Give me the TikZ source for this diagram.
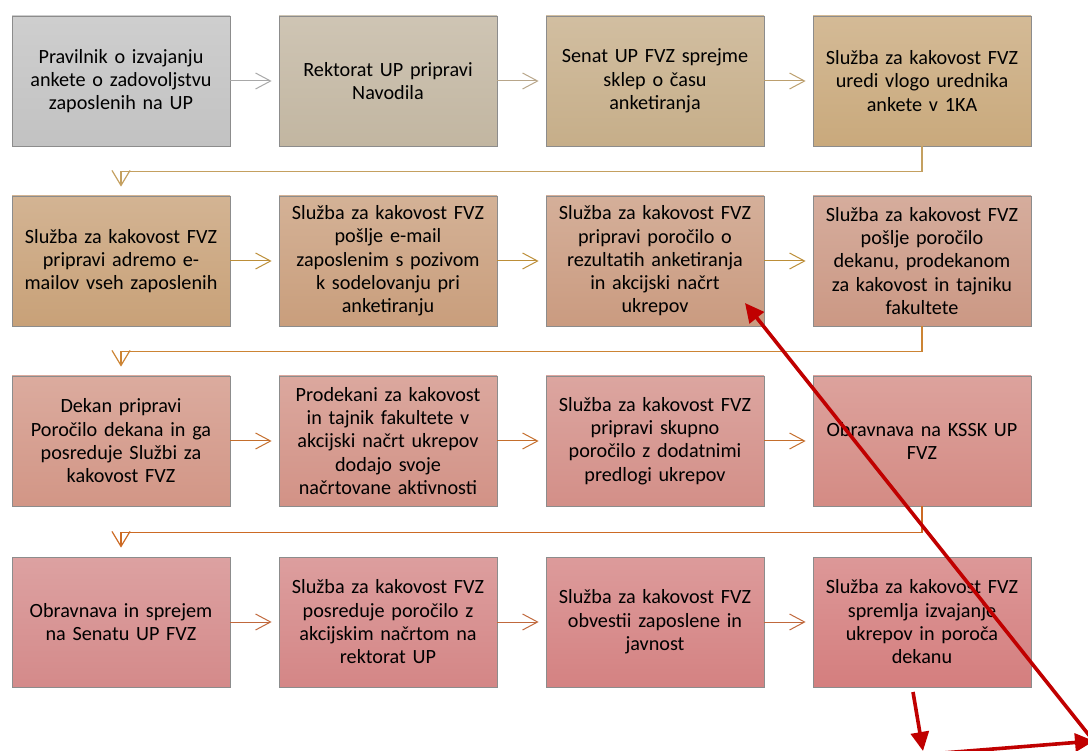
\documentclass[tikz,border=0pt]{standalone}
\usepackage{fontspec}
\setmainfont{Carlito}
\usetikzlibrary{arrows.meta,calc}
\newcommand{\boxfont}{\fontsize{20.2}{23.3}\selectfont}
\tikzset{
  pbox/.style={draw=black!45, line width=0.8pt, minimum width=218pt, minimum height=130pt,
    text width=214pt, align=center, inner sep=0pt, font=\boxfont, top color=#1!80!white, bottom color=#1},
  harrow/.style={draw=#1, line width=1pt, -{Straight Barb[length=15pt,width=16pt,line width=1pt]}, shorten >=7pt},
  conn/.style={draw=#1, line width=1.2pt, -{Straight Barb[length=15pt,width=18pt,line width=1.2pt]}},
  redarrow/.style={draw=redann, line width=3.6pt, -{Triangle[length=19pt,width=18pt]}}
}
\definecolor{redann}{HTML}{C00000}
\definecolor{b11}{HTML}{C2C2C2}
\definecolor{b12}{HTML}{C2B6A1}
\definecolor{b13}{HTML}{C6AE89}
\definecolor{b14}{HTML}{C9A97C}
\definecolor{b21}{HTML}{C8A178}
\definecolor{b22}{HTML}{C99E7C}
\definecolor{b23}{HTML}{CA9B80}
\definecolor{b24}{HTML}{CB9884}
\definecolor{b31}{HTML}{D29686}
\definecolor{b32}{HTML}{D29286}
\definecolor{b33}{HTML}{D38F88}
\definecolor{b34}{HTML}{D48B84}
\definecolor{b41}{HTML}{D48A8A}
\definecolor{b42}{HTML}{D48686}
\definecolor{b43}{HTML}{D48282}
\definecolor{b44}{HTML}{D47E7E}
\definecolor{a11}{HTML}{A8A8A8}
\definecolor{a12}{HTML}{B8A68A}
\definecolor{a13}{HTML}{BC9F6E}
\definecolor{c1}{HTML}{C4A060}
\definecolor{a2}{HTML}{BC8E38}
\definecolor{c2}{HTML}{CC8434}
\definecolor{a3}{HTML}{C46E2C}
\definecolor{c3}{HTML}{CC6A24}
\definecolor{a4}{HTML}{C0683C}
\begin{document}
\begin{tikzpicture}[x=1pt,y=-1pt]
\useasboundingbox (0,0) rectangle (1088,751);
\clip (0,0) rectangle (1088,751);
% row 1
\node[pbox=b11] (r1c1) at (121,81) {Pravilnik o izvajanju\\ankete o zadovoljstvu\\zaposlenih na UP};
\node[pbox=b12] (r1c2) at (388,81) {Rektorat UP pripravi\\Navodila};
\node[pbox=b13] (r1c3) at (655,81) {Senat UP FVZ sprejme\\sklep o času\\anketiranja};
\node[pbox=b14] (r1c4) at (922,81) {Služba za kakovost FVZ\\uredi vlogo urednika\\ankete v 1KA};
% row 2
\node[pbox=b21] (r2c1) at (121,261) {Služba za kakovost FVZ\\pripravi adremo e-\\mailov vseh zaposlenih};
\node[pbox=b22] (r2c2) at (388,261) {Služba za kakovost FVZ\\pošlje e-mail\\zaposlenim s pozivom\\k sodelovanju pri\\anketiranju};
\node[pbox=b23] (r2c3) at (655,261) {Služba za kakovost FVZ\\pripravi poročilo o\\rezultatih anketiranja\\in akcijski načrt\\ukrepov};
\node[pbox=b24] (r2c4) at (922,261) {Služba za kakovost FVZ\\pošlje poročilo\\dekanu, prodekanom\\za kakovost in tajniku\\fakultete};
% row 3
\node[pbox=b31] (r3c1) at (121,441) {Dekan pripravi\\Poročilo dekana in ga\\posreduje Službi za\\kakovost FVZ};
\node[pbox=b32] (r3c2) at (388,441) {Prodekani za kakovost\\in tajnik fakultete v\\akcijski načrt ukrepov\\dodajo svoje\\načrtovane aktivnosti};
\node[pbox=b33] (r3c3) at (655,441) {Služba za kakovost FVZ\\pripravi skupno\\poročilo z dodatnimi\\predlogi ukrepov};
\node[pbox=b34] (r3c4) at (922,441) {Obravnava na KSSK UP\\FVZ};
% row 4
\node[pbox=b41] (r4c1) at (121,622) {Obravnava in sprejem\\na Senatu UP FVZ};
\node[pbox=b42] (r4c2) at (388,622) {Služba za kakovost FVZ\\posreduje poročilo z\\akcijskim načrtom na\\rektorat UP};
\node[pbox=b43] (r4c3) at (655,622) {Služba za kakovost FVZ\\obvestii zaposlene in\\javnost};
\node[pbox=b44] (r4c4) at (922,622) {Služba za kakovost FVZ\\spremlja izvajanje\\ukrepov in poroča\\dekanu};
% horizontal arrows
\draw[harrow=a11] (r1c1.east) -- (r1c2.west);
\draw[harrow=a12] (r1c2.east) -- (r1c3.west);
\draw[harrow=a13] (r1c3.east) -- (r1c4.west);
\draw[harrow=a2] (r2c1.east) -- (r2c2.west);
\draw[harrow=a2] (r2c2.east) -- (r2c3.west);
\draw[harrow=a2] (r2c3.east) -- (r2c4.west);
\draw[harrow=a3] (r3c1.east) -- (r3c2.west);
\draw[harrow=a3] (r3c2.east) -- (r3c3.west);
\draw[harrow=a3] (r3c3.east) -- (r3c4.west);
\draw[harrow=a4] (r4c1.east) -- (r4c2.west);
\draw[harrow=a4] (r4c2.east) -- (r4c3.west);
\draw[harrow=a4] (r4c3.east) -- (r4c4.west);
% row connectors
\draw[conn=c1] (r1c4.south) -- ++(0,25) -| ([yshift=9pt]r2c1.north);
\draw[conn=c2] (r2c4.south) -- ++(0,25) -| ([yshift=9pt]r3c1.north);
\draw[conn=c3] (r3c4.south) -- ++(0,26) -| ([yshift=9pt]r4c1.north);
% red annotation arrows
\coordinate (d1) at (1100,749);
\coordinate (d2) at (745,303);
\coordinate (s1) at (913,692);
\coordinate (s2) at (923,751);
\coordinate (h1) at (930,754);
\coordinate (h2) at (1094,741);
\draw[redarrow] (d1) -- (d2);
\draw[redarrow] (s1) -- (s2);
\draw[redarrow] (h1) -- (h2);
\end{tikzpicture}
\end{document}
